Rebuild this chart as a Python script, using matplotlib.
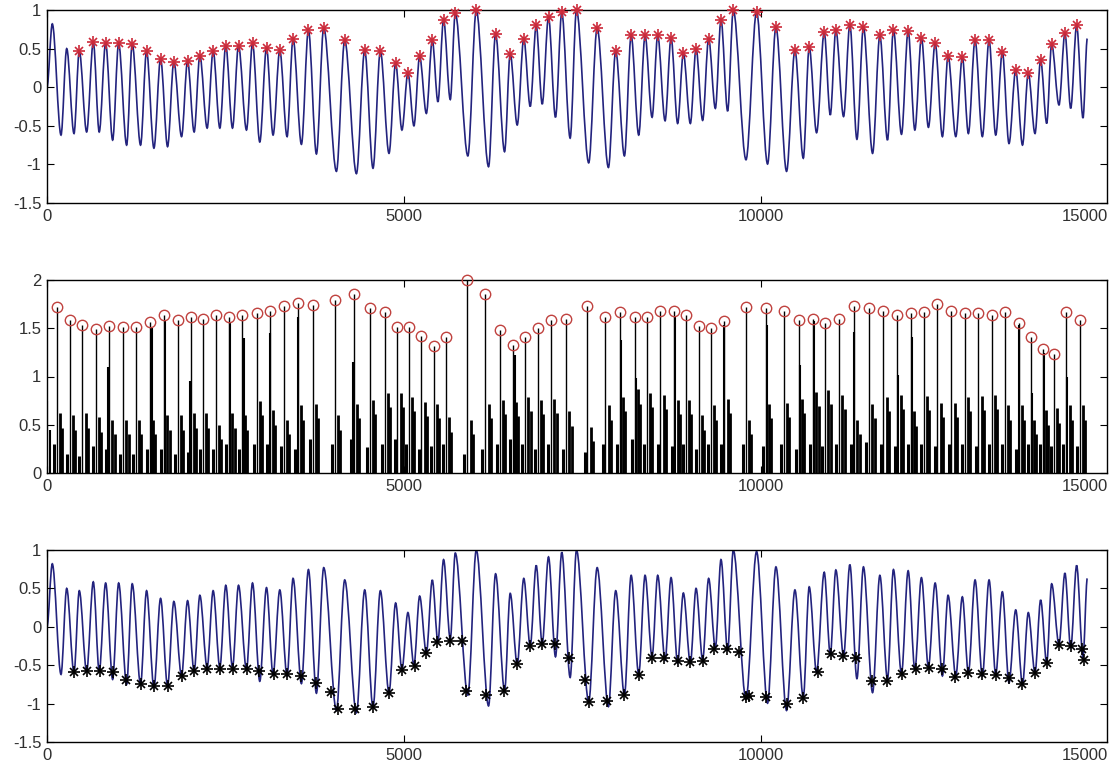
import numpy as np
import matplotlib.pyplot as plt
from matplotlib.path import Path
from matplotlib.patches import PathPatch
from matplotlib.transforms import offset_copy

plt.rcParams['font.family'] = ['Liberation Sans', 'DejaVu Sans']

# ---- signal extrema (sample index, amplitude) ----
start_x, start_y = 0, 0.0
end_x, end_y = 14564, 0.63

peak_x = [74, 276, 452, 648, 821, 1003, 1193, 1394, 1590, 1776, 1968, 2140, 2326, 2503, 2681,
          2877, 3073, 3259, 3445, 3660, 3874, 4168, 4448, 4667, 4881, 5053, 5217, 5394, 5552,
          5716, 6010, 6280, 6485, 6675, 6849, 7021, 7207, 7413, 7702, 7962, 8178, 8373, 8550,
          8737, 8909, 9087, 9263, 9436, 9608, 9934, 10205, 10471, 10671, 10881, 11044, 11240,
          11430, 11660, 11850, 12056, 12242, 12434, 12615, 12815, 12993, 13189, 13375, 13562,
          13738, 13911, 14065, 14251, 14415]
peak_y = [0.82, 0.50, 0.47, 0.585, 0.57, 0.57, 0.56, 0.47, 0.37, 0.33, 0.34, 0.41, 0.47, 0.54, 0.54,
          0.57, 0.51, 0.48, 0.63, 0.745, 0.77, 0.61, 0.48, 0.47, 0.31, 0.185, 0.40, 0.61, 0.875,
          0.96, 1.0, 0.69, 0.435, 0.63, 0.80, 0.91, 0.97, 1.0, 0.77, 0.47, 0.67, 0.67, 0.67,
          0.64, 0.44, 0.50, 0.63, 0.875, 1.0, 0.98, 0.78, 0.48, 0.52, 0.71, 0.74, 0.81,
          0.78, 0.67, 0.745, 0.73, 0.64, 0.57, 0.41, 0.39, 0.61, 0.61, 0.456, 0.22,
          0.185, 0.35, 0.56, 0.70, 0.80]
n_unmarked = 2  # first two peaks carry no star

trough_x = [196, 378, 555, 731, 919, 1115, 1310, 1497, 1688, 1884, 2060, 2242, 2420, 2597, 2793,
            2979, 3165, 3361, 3562, 3772, 4052, 4332, 4564, 4788, 4969, 5137, 5311, 5473, 5646,
            5892, 6182, 6406, 6583, 6765, 6933, 7119, 7324, 7584, 7860, 8084, 8284, 8471, 8653,
            8829, 9007, 9179, 9357, 9529, 9786, 10088, 10354, 10588, 10774, 10966, 11152, 11339,
            11558, 11767, 11963, 12150, 12340, 12536, 12723, 12899, 13095, 13282, 13468, 13657,
            13832, 13996, 14168, 14332, 14504]
trough_y = [-0.62, -0.60, -0.58, -0.58, -0.685, -0.75, -0.75, -0.79, -0.77, -0.64, -0.58, -0.53,
            -0.53, -0.53, -0.555, -0.71, -0.62, -0.64, -0.74, -0.865, -1.09, -1.12, -1.05, -0.857,
            -0.555, -0.50, -0.34, -0.19, -0.16, -0.89, -1.03, -0.835, -0.49, -0.25, -0.22, -0.39,
            -0.66, -0.98, -1.04, -0.89, -0.62, -0.39, -0.435, -0.47, -0.47, -0.43, -0.275, -0.31,
            -0.94, -0.995, -1.09, -0.92, -0.59, -0.36, -0.38, -0.675, -0.857, -0.685, -0.61,
            -0.555, -0.52, -0.64, -0.64, -0.60, -0.64, -0.62, -0.73, -0.75, -0.60, -0.47, -0.23,
            -0.275, -0.40]

# ---- lower envelope markers (bottom plot) ----
low_x = [378, 564, 741, 919, 1105, 1310, 1497, 1697, 1884, 2056, 2234, 2420, 2606, 2793, 2969,
         3175, 3361, 3562, 3772, 3982, 4074, 4308, 4564, 4788, 4969, 5147, 5301, 5464, 5636,
         5814, 5870, 6150, 6392, 6583, 6755, 6927, 7105, 7301, 7534, 7584, 7836, 8084, 8284,
         8471, 8643, 8829, 9003, 9179, 9343, 9520, 9692, 9786, 9832, 10065, 10354, 10588,
         10788, 10975, 11147, 11324, 11548, 11766, 11976, 12163, 12349, 12536, 12714, 12899,
         13095, 13282, 13468, 13654, 13832, 14004, 14168, 14332, 14493, 14517]
low_y = [-0.59, -0.58, -0.58, -0.59, -0.69, -0.75, -0.77, -0.77, -0.64, -0.58, -0.55, -0.55,
         -0.55, -0.55, -0.58, -0.61, -0.61, -0.64, -0.73, -0.85, -1.075, -1.07, -1.05, -0.86,
         -0.56, -0.505, -0.34, -0.20, -0.18, -0.18, -0.84, -0.89, -0.84, -0.48, -0.255, -0.225,
         -0.225, -0.41, -0.69, -0.98, -0.96, -0.89, -0.63, -0.405, -0.405, -0.44, -0.46, -0.44,
         -0.285, -0.285, -0.33, -0.91, -0.905, -0.91, -1.0, -0.93, -0.59, -0.36, -0.385, -0.405,
         -0.70, -0.70, -0.61, -0.555, -0.53, -0.545, -0.65, -0.60, -0.61, -0.63, -0.665, -0.75,
         -0.60, -0.47, -0.24, -0.255, -0.285, -0.43]

# ---- middle plot: detected peaks (circles) and stems ----
circle_x = [136, 322, 494, 685, 871, 1067, 1245, 1441, 1641, 1828, 2010, 2178, 2364, 2550, 2731,
            2933, 3119, 3315, 3515, 3724, 4028, 4294, 4517, 4727, 4905, 5067, 5241, 5413, 5580,
            5884, 6136, 6336, 6523, 6695, 6871, 7059, 7268, 7566, 7818, 8023, 8228, 8401, 8587,
            8783, 8947, 9123, 9297, 9482, 9786, 10065, 10312, 10521, 10727, 10895, 11091, 11301,
            11510, 11710, 11906, 12093, 12279, 12465, 12661, 12849, 13039, 13226, 13413, 13608,
            13772, 13944, 14098, 14270, 14457]
circle_y = [1.72, 1.59, 1.53, 1.49, 1.52, 1.51, 1.51, 1.56, 1.64, 1.59,
            1.62, 1.60, 1.64, 1.62, 1.64, 1.66, 1.68, 1.73, 1.76, 1.74,
            1.79, 1.86, 1.71, 1.67, 1.51, 1.51, 1.42, 1.32, 1.41, 2.0,
            1.85, 1.48, 1.33, 1.41, 1.50, 1.59, 1.60, 1.73, 1.62, 1.67,
            1.62, 1.62, 1.68, 1.68, 1.64, 1.52, 1.50, 1.57, 1.72, 1.71,
            1.68, 1.59, 1.60, 1.55, 1.60, 1.73, 1.71, 1.68, 1.64, 1.66,
            1.67, 1.75, 1.68, 1.66, 1.66, 1.64, 1.67, 1.55, 1.41, 1.29,
            1.23, 1.67, 1.59]

extra_x = [0, 40, 857, 1464, 1655, 2004, 2564, 2760, 3123, 3520, 4290, 6545, 8042, 8242, 8797,
           9483, 10080, 10546, 10741, 11301, 11920, 12107, 13612, 13786, 13958, 14284]
extra_h = [0.75, 0.45, 1.1, 1.5, 1.58, 0.95, 1.55, 1.4, 1.45, 1.62, 1.15, 1.22, 1.38, 0.98, 1.62,
           1.53, 1.53, 1.12, 1.57, 1.46, 1.02, 1.41, 1.53, 0.83, 1.24, 1.0]

base_x = [96, 282, 454, 645, 831, 1027, 1205, 1401, 1601, 1788, 1970, 2138, 2324, 2510, 2691,
          2893, 3079, 3275, 3475, 3684, 3988, 4254, 4477, 4687, 4865, 5027, 5201, 5373, 5540,
          5844, 6096, 6296, 6483, 6655, 6831, 7019, 7228, 7526, 7778, 7983, 8188, 8361, 8547,
          8743, 8907, 9083, 9257, 9442, 9746, 10025, 10272, 10481, 10687, 10855, 11051, 11261,
          11470, 11670, 11866, 12053, 12239, 12425, 12621, 12809, 12999, 13186, 13373, 13568,
          13732, 13904, 14058, 14230, 14417]
base_h = [0.30, 0.20, 0.18, 0.28, 0.25, 0.20, 0.20, 0.25, 0.25, 0.20, 0.22, 0.25, 0.25, 0.30, 0.25,
          0.30, 0.30, 0.28, 0.25, 0.35, 0.30, 0.35, 0.27, 0.30, 0.35, 0.30, 0.25, 0.28, 0.30,
          0.20, 0.25, 0.30, 0.35, 0.30, 0.25, 0.30, 0.25, 0.22, 0.30, 0.30, 0.35, 0.30, 0.30,
          0.28, 0.30, 0.25, 0.30, 0.30, 0.30, 0.28, 0.30, 0.25, 0.30, 0.28, 0.30, 0.30,
          0.32, 0.30, 0.28, 0.30, 0.30, 0.28, 0.30, 0.30, 0.28, 0.30, 0.30, 0.25, 0.30,
          0.30, 0.28, 0.30, 0.28]
crest_x = [181, 367, 539, 730, 916, 1112, 1290, 1486, 1686, 1873, 2055, 2223, 2409, 2595, 2776,
           2978, 3164, 3360, 3560, 3769, 4073, 4339, 4562, 4772, 4950, 5112, 5286, 5458, 5625,
           5929, 6181, 6381, 6568, 6740, 6916, 7104, 7313, 7611, 7863, 8068, 8273, 8446, 8632,
           8828, 8992, 9168, 9342, 9527, 9831, 10110, 10357, 10566, 10772, 10940, 11136, 11346,
           11555, 11755, 11951, 12138, 12324, 12510, 12706, 12894, 13084, 13271, 13458, 13653,
           13817, 13989, 14143, 14315, 14502]
crest_h = [0.62, 0.60, 0.62, 0.58, 0.55, 0.55, 0.55, 0.55, 0.60, 0.60, 0.62, 0.62, 0.50, 0.62, 0.60,
           0.75, 0.65, 0.55, 0.70, 0.72, 0.60, 0.72, 0.76, 0.83, 0.83, 0.79, 0.74, 0.72, 0.58,
           0.55, 0.72, 0.76, 0.74, 0.79, 0.76, 0.77, 0.64, 0.48, 0.70, 0.79, 0.87, 0.83, 0.81,
           0.76, 0.76, 0.60, 0.70, 0.77, 0.55, 0.72, 0.73, 0.77, 0.84, 0.86, 0.81, 0.55,
           0.72, 0.79, 0.81, 0.64, 0.80, 0.73, 0.73, 0.79, 0.80, 0.81, 0.70, 0.70, 0.55,
           0.65, 0.67, 0.70, 0.70]
tail_x = [211, 397, 569, 760, 946, 1142, 1320, 1516, 1716, 1903, 2085, 2253, 2439, 2625, 2806,
          3008, 3194, 3390, 3590, 3799, 4103, 4369, 4592, 4802, 4980, 5142, 5316, 5488, 5655,
          5959, 6211, 6411, 6598, 6770, 6946, 7134, 7343, 7641, 7893, 8098, 8303, 8476, 8662,
          8858, 9022, 9198, 9372, 9557, 9861, 10140, 10387, 10596, 10802, 10970, 11166, 11376,
          11585, 11785, 11981, 12168, 12354, 12540, 12736, 12924, 13114, 13301, 13488, 13683,
          13847, 14019, 14173, 14345, 14532]
tail_h = [0.47, 0.45, 0.47, 0.43, 0.40, 0.40, 0.40, 0.40, 0.45, 0.45, 0.47, 0.47, 0.35, 0.47, 0.45,
          0.60, 0.50, 0.40, 0.55, 0.57, 0.45, 0.57, 0.61, 0.68, 0.68, 0.64, 0.59, 0.57, 0.43,
          0.40, 0.57, 0.61, 0.59, 0.64, 0.61, 0.62, 0.49, 0.33, 0.55, 0.64, 0.72, 0.68, 0.66,
          0.61, 0.61, 0.45, 0.55, 0.62, 0.40, 0.57, 0.58, 0.62, 0.69, 0.71, 0.66, 0.40,
          0.57, 0.64, 0.66, 0.49, 0.65, 0.58, 0.58, 0.64, 0.65, 0.66, 0.55, 0.55, 0.40,
          0.50, 0.52, 0.55, 0.55]

xmax = 14840
line_col = '#23237e'
star_red = '#cc2a3a'
circ_red = '#c0423f'

# assemble the signal from its extrema
sig_x = np.concatenate([[start_x], peak_x, trough_x, [end_x]])
sig_y = np.concatenate([[start_y], peak_y, trough_y, [end_y]])
order = np.argsort(sig_x)
sig_x, sig_y = sig_x[order], sig_y[order]


def smooth_path(xs, ys):
    # cubic Bezier pieces with flat tangents at each extremum (rendering only)
    verts = [(xs[0], ys[0])]
    codes = [Path.MOVETO]
    for x0, y0, x1, y1 in zip(xs[:-1], ys[:-1], xs[1:], ys[1:]):
        d = (x1 - x0) / 3
        verts += [(x0 + d, y0), (x1 - d, y1), (x1, y1)]
        codes += [Path.CURVE4] * 3
    return Path(verts, codes)


def asterisk(ax, x, y, color):
    ax.plot(x, y, '+', ms=8.5, mew=1.2, color=color, clip_on=False, zorder=3)
    ax.plot(x, y, 'x', ms=6, mew=1.2, color=color, clip_on=False, zorder=3)


def style(ax, ylim, yticks, yticklabels):
    ax.set_xlim(0, xmax)
    ax.set_ylim(*ylim)
    ax.set_xticks([0, 5000, 10000])
    ax.set_xticklabels(['0', '5000', '10000'])
    ax.set_yticks(yticks)
    ax.set_yticklabels(yticklabels)
    ax.tick_params(direction='in', length=5, width=0.8, top=True, right=True,
                   labelsize=12, labelcolor='#303030', pad=4)
    for s in ax.spines.values():
        s.set_linewidth(1.0)
    tr = offset_copy(ax.transAxes, fig=fig, y=-4, units='points')
    ax.text(0.979, 0, '15000', transform=tr, ha='center', va='top',
            fontsize=12, color='#303030')


fig = plt.figure(figsize=(11.15, 7.67), dpi=100)
W, H = 1115, 767
ax1 = fig.add_axes([47 / W, 1 - 203 / H, 1060 / W, 193 / H])
ax2 = fig.add_axes([47 / W, 1 - 473 / H, 1060 / W, 193 / H])
ax3 = fig.add_axes([47 / W, 1 - 742 / H, 1060 / W, 192 / H])

# top: signal with upper peaks
ax1.add_patch(PathPatch(smooth_path(sig_x, sig_y), fill=False, edgecolor=line_col, lw=1.2))
asterisk(ax1, peak_x[n_unmarked:], peak_y[n_unmarked:], star_red)
style(ax1, (-1.5, 1), [-1.5, -1, -0.5, 0, 0.5, 1], ['-1.5', '-1', '-0.5', '0', '0.5', '1'])

# middle: stems
ax2.vlines(base_x, 0, base_h, colors='k', lw=2.2)
ax2.vlines(crest_x, 0, crest_h, colors='k', lw=2.0)
ax2.vlines(tail_x, 0, tail_h, colors='k', lw=2.0)
ax2.vlines(extra_x, 0, extra_h, colors='k', lw=1.5)
ax2.vlines(circle_x, 0, circle_y, colors='k', lw=1.0)
ax2.plot(circle_x, circle_y, 'o', ms=7.5, mfc='none', mec=circ_red, mew=1.0, clip_on=False, zorder=3)
style(ax2, (0, 2), [0, 0.5, 1, 1.5, 2], ['0', '0.5', '1', '1.5', '2'])

# bottom: signal with lower envelope markers
ax3.add_patch(PathPatch(smooth_path(sig_x, sig_y), fill=False, edgecolor=line_col, lw=1.2))
asterisk(ax3, low_x, low_y, 'k')
style(ax3, (-1.5, 1), [-1.5, -1, -0.5, 0, 0.5, 1], ['-1.5', '-1', '-0.5', '0', '0.5', '1'])

fig.savefig('out.png', dpi=100)
